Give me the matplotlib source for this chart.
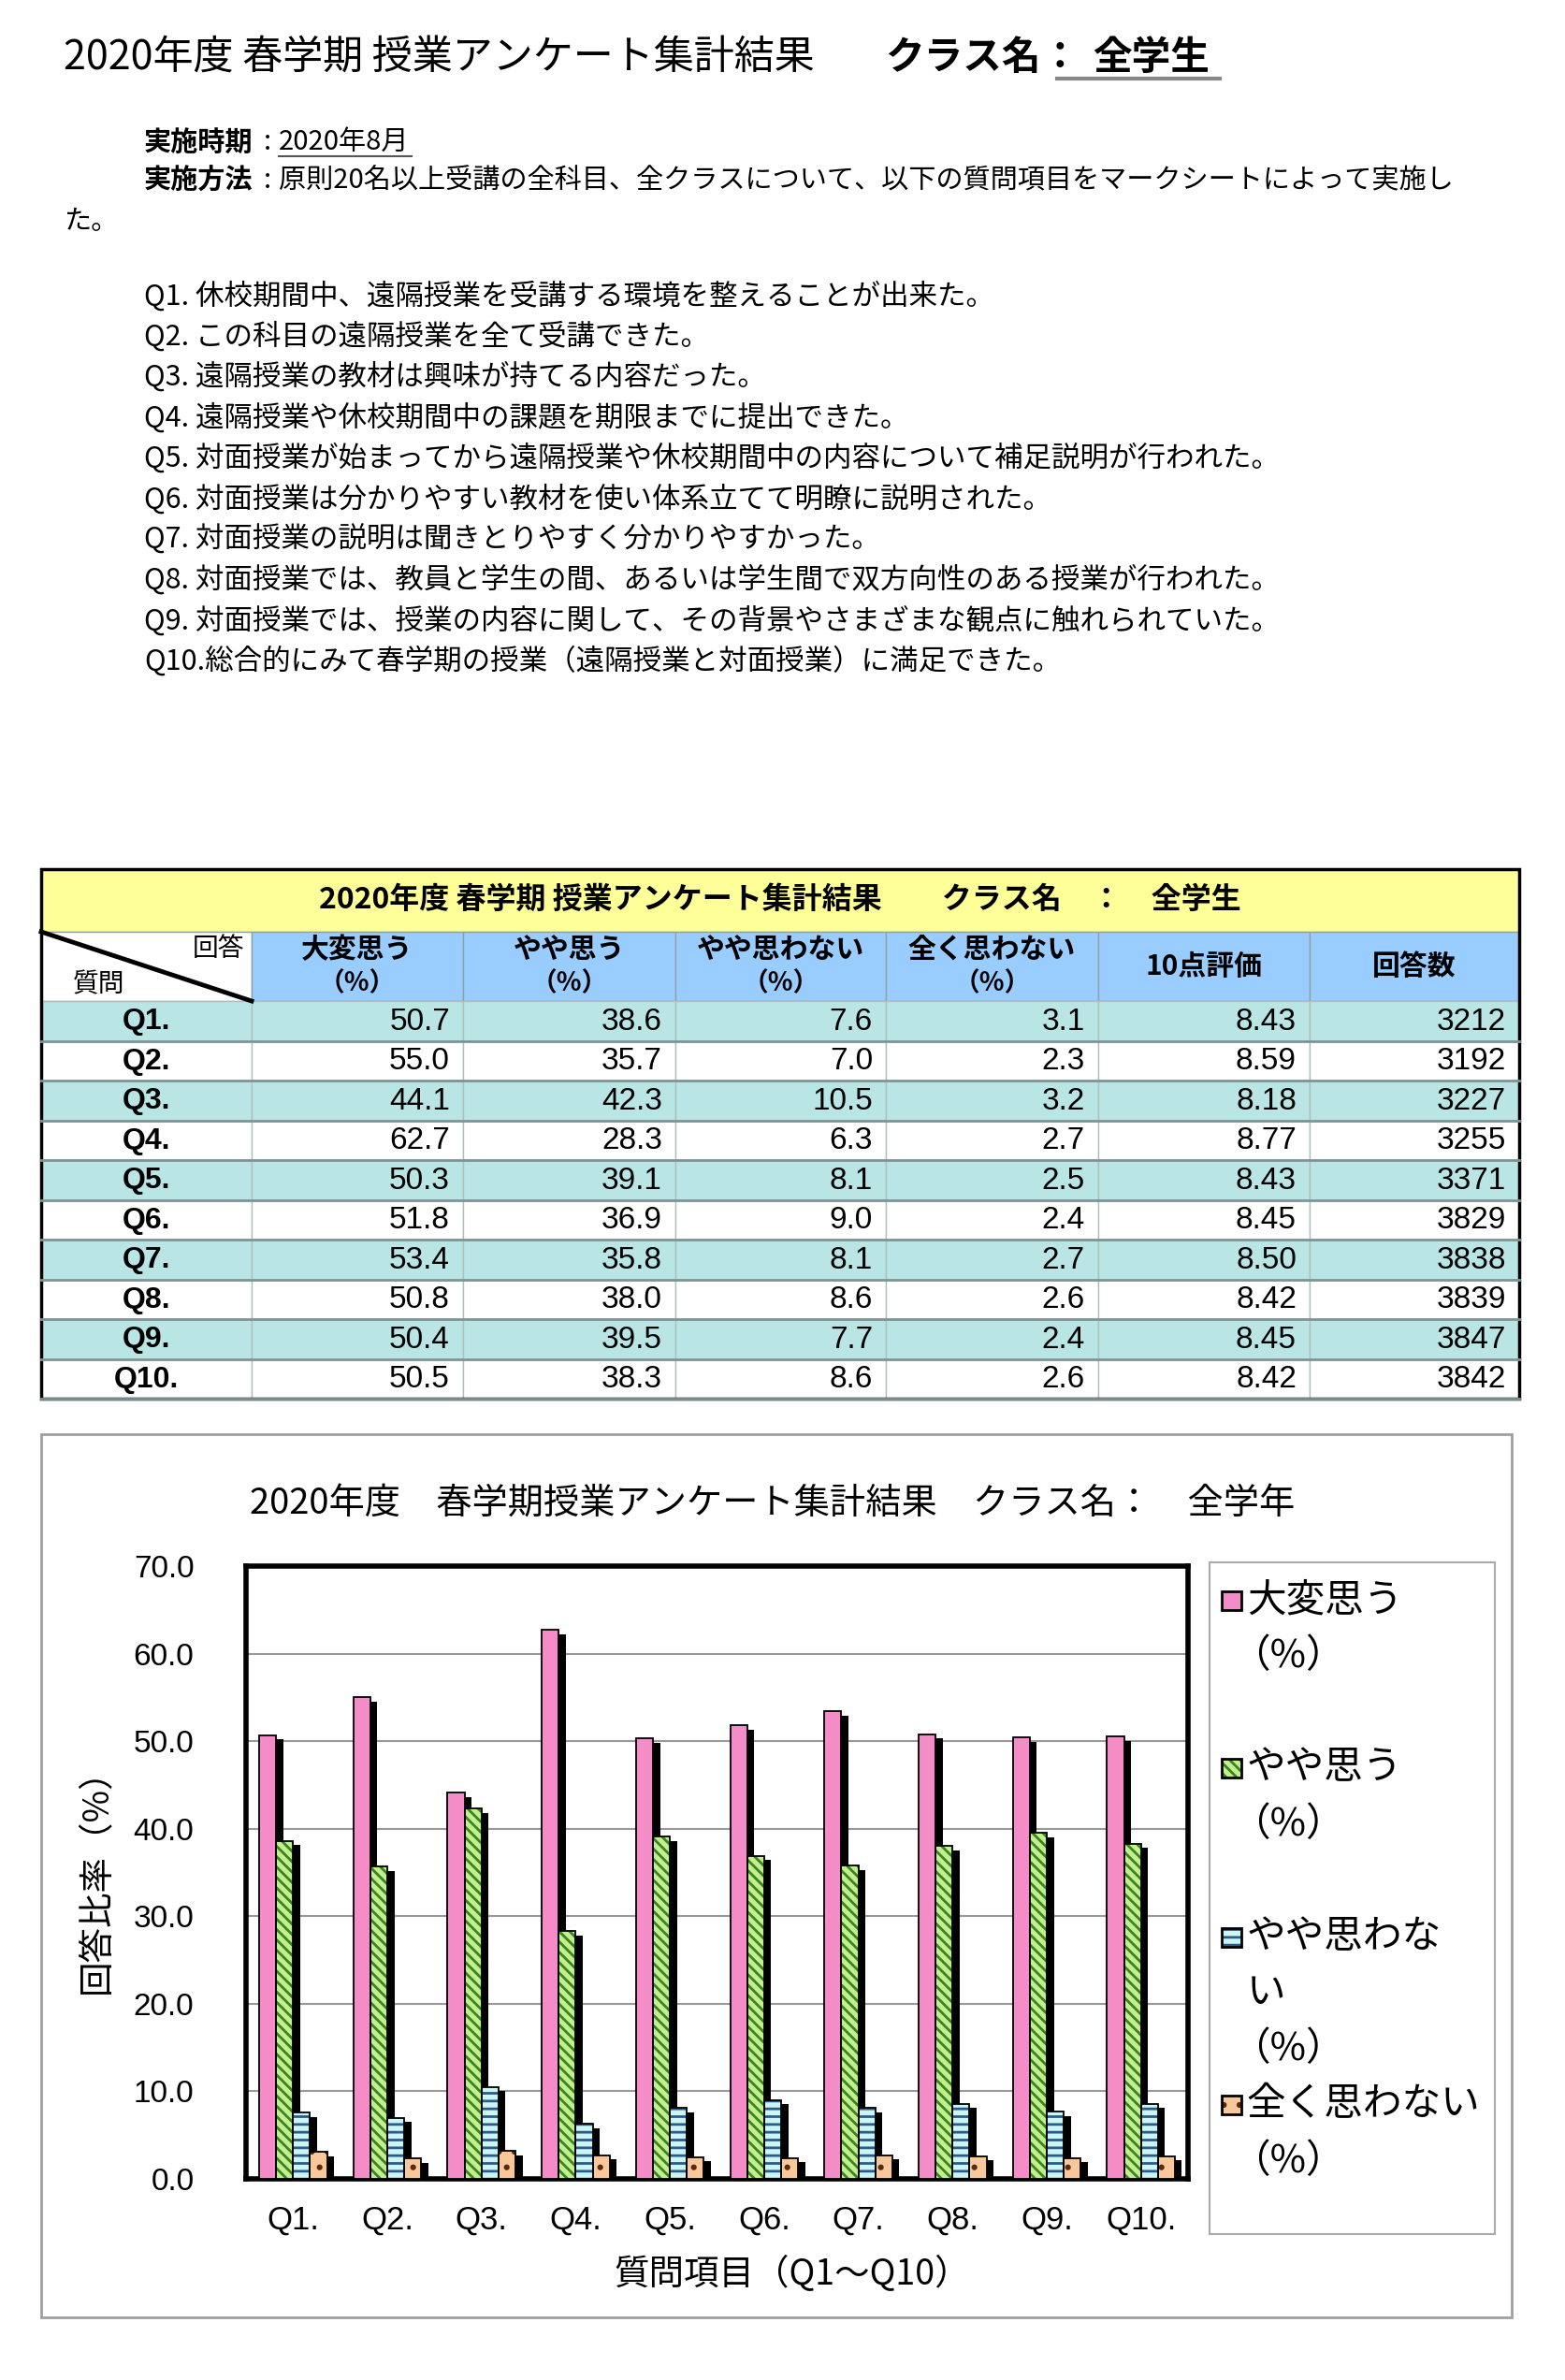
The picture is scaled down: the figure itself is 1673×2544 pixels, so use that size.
import numpy as np
import matplotlib.pyplot as plt
from matplotlib.patches import Rectangle

JP = ['Noto Sans CJK JP', 'DejaVu Sans']
NUM = ['Liberation Sans', 'DejaVu Sans']
plt.rcParams['font.family'] = JP
plt.rcParams['hatch.linewidth'] = 2.0

# --- data ---
questions = ["Q1.", "Q2.", "Q3.", "Q4.", "Q5.", "Q6.", "Q7.", "Q8.", "Q9.", "Q10."]
q_texts = [
    "Q1. 休校期間中、遠隔授業を受講する環境を整えることが出来た。",
    "Q2. この科目の遠隔授業を全て受講できた。",
    "Q3. 遠隔授業の教材は興味が持てる内容だった。",
    "Q4. 遠隔授業や休校期間中の課題を期限までに提出できた。",
    "Q5. 対面授業が始まってから遠隔授業や休校期間中の内容について補足説明が行われた。",
    "Q6. 対面授業は分かりやすい教材を使い体系立てて明瞭に説明された。",
    "Q7. 対面授業の説明は聞きとりやすく分かりやすかった。",
    "Q8. 対面授業では、教員と学生の間、あるいは学生間で双方向性のある授業が行われた。",
    "Q9. 対面授業では、授業の内容に関して、その背景やさまざまな観点に触れられていた。",
    "Q10.総合的にみて春学期の授業（遠隔授業と対面授業）に満足できた。",
]
very = [50.7, 55.0, 44.1, 62.7, 50.3, 51.8, 53.4, 50.8, 50.4, 50.5]
some = [38.6, 35.7, 42.3, 28.3, 39.1, 36.9, 35.8, 38.0, 39.5, 38.3]
little = [7.6, 7.0, 10.5, 6.3, 8.1, 9.0, 8.1, 8.6, 7.7, 8.6]
never = [3.1, 2.3, 3.2, 2.7, 2.5, 2.4, 2.7, 2.6, 2.4, 2.6]
score = [8.43, 8.59, 8.18, 8.77, 8.43, 8.45, 8.50, 8.42, 8.45, 8.42]
n_resp = [3212, 3192, 3227, 3255, 3371, 3829, 3838, 3839, 3847, 3842]

table_heads = [("大変思う", "（%）"), ("やや思う", "（%）"), ("やや思わない", "（%）"),
               ("全く思わない", "（%）"), ("10点評価", None), ("回答数", None)]
legend_labels = [["大変思う", "（%）"], ["やや思う", "（%）"],
                 ["やや思わな", "い", "（%）"], ["全く思わない", "（%）"]]

fig = plt.figure(figsize=(16.74, 25.44), dpi=100)
page = fig.add_axes([0, 0, 1, 1])
page.set_xlim(0, 1674)
page.set_ylim(2544, 0)
page.axis('off')

# --- header text ---
page.text(68, 62, "2020年度 春学期 授業アンケート集計結果", fontsize=31, va='center')
page.text(946, 62, "クラス名：", fontsize=30, fontweight='bold', va='center')
page.text(1168, 62, "全学生", fontsize=30, fontweight='bold', va='center')
page.plot([1130, 1304], [84, 84], color='#888888', lw=3)

page.text(154, 152, "実施時期", fontsize=21, fontweight='bold', va='center')
page.text(282, 152, ":", fontsize=21, va='center')
page.text(298, 152, "2020年8月", fontsize=21, va='center')
page.plot([298, 440], [167, 167], color='#555555', lw=1.5)
page.text(154, 193, "実施方法", fontsize=21, fontweight='bold', va='center')
page.text(282, 193, ":", fontsize=21, va='center')
page.text(298, 193, "原則20名以上受講の全科目、全クラスについて、以下の質問項目をマークシートによって実施し",
          fontsize=21, va='center')
page.text(68, 237, "た。", fontsize=21, va='center')

for i, t in enumerate(q_texts):
    page.text(154, 316 + i * 43.4, t, fontsize=22, va='center')

# --- table ---
col_x = [44, 269, 495, 722, 947, 1174, 1400, 1624]
t_top, t_head, t_rows = 929, 996, 1070
row_h = 42.5
grid = '#8FA3A3'

page.add_patch(Rectangle((col_x[0], t_top), col_x[-1] - col_x[0], t_head - t_top,
                         facecolor='#FFFF99', edgecolor=grid, lw=1))
page.text(834, 962, "2020年度 春学期 授業アンケート集計結果　　クラス名　：　全学生",
          fontsize=23, fontweight='bold', ha='center', va='center')

page.add_patch(Rectangle((col_x[0], t_head), col_x[1] - col_x[0], t_rows - t_head,
                         facecolor='white', edgecolor=grid, lw=1))
page.plot([col_x[0], col_x[1]], [t_head, t_rows], color='black', lw=3.5)
page.text(col_x[1] - 8, 1014, "回答", fontsize=20, ha='right', va='center')
page.text(78, 1052, "質問", fontsize=20, ha='left', va='center')

for j, (h1, h2) in enumerate(table_heads):
    x0, x1 = col_x[j + 1], col_x[j + 2]
    page.add_patch(Rectangle((x0, t_head), x1 - x0, t_rows - t_head,
                             facecolor='#99CCFF', edgecolor=grid, lw=1))
    cx = (x0 + x1) / 2
    if h2 is None:
        page.text(cx, 1033, h1, fontsize=21.5, fontweight='bold', ha='center', va='center')
    else:
        page.text(cx, 1015, h1, fontsize=21.5, fontweight='bold', ha='center', va='center')
        page.text(cx, 1051, h2, fontsize=20, fontweight='bold', ha='center', va='center')

for i, q in enumerate(questions):
    y0 = t_rows + i * row_h
    face = '#B9E5E5' if i % 2 == 0 else 'white'
    cells = [f"{very[i]:.1f}", f"{some[i]:.1f}", f"{little[i]:.1f}", f"{never[i]:.1f}",
             f"{score[i]:.2f}", f"{n_resp[i]}"]
    for j in range(7):
        page.add_patch(Rectangle((col_x[j], y0), col_x[j + 1] - col_x[j], row_h,
                                 facecolor=face, edgecolor='#B0BEBE', lw=1))
    page.plot([col_x[0], col_x[-1]], [y0 + row_h, y0 + row_h], color='#7F9595', lw=2)
    yc = y0 + row_h / 2
    page.text((col_x[0] + col_x[1]) / 2, yc + 1, q, fontsize=23, fontweight='bold',
              family=NUM, ha='center', va='center')
    for j, s in enumerate(cells):
        page.text(col_x[j + 2] - 14, yc + 1, s, fontsize=24, family=NUM, ha='right', va='center')

page.add_patch(Rectangle((col_x[0], t_top), col_x[-1] - col_x[0], t_rows + 10 * row_h - t_top,
                         facecolor='none', edgecolor='black', lw=2.5))

# --- chart frame ---
page.add_patch(Rectangle((44, 1533), 1572, 944, facecolor='white', edgecolor='#A0A0A0', lw=2))
page.text(826, 1607, "2020年度　春学期授業アンケート集計結果　クラス名：　全学年",
          fontsize=27.5, ha='center', va='center')

ax = fig.add_axes([263 / 1674, (2544 - 2329) / 2544, 1007 / 1674, 655 / 2544])
x = np.arange(len(questions))
w = 0.18
styles = [
    dict(face='#F48CC8', hatch=None, hcol='#F48CC8'),
    dict(face='#C4F08C', hatch='\\\\\\', hcol='#3A8228'),
    dict(face='#CDF5F5', hatch='--', hcol='#2A5C8A'),
    dict(face='#F8C89A', hatch='.', hcol='#5A2A10'),
]
series = [very, some, little, never]
for k, (vals, st) in enumerate(zip(series, styles)):
    pos = x + (k - 1.5) * w
    vals = np.array(vals)
    ax.bar(pos + 0.075, vals - 0.5, width=w, color='black', zorder=2)
    ax.bar(pos, vals, width=w, color=st['face'], hatch=st['hatch'],
           edgecolor=st['hcol'], linewidth=0, zorder=3)
    ax.bar(pos, vals, width=w, facecolor='none', edgecolor='black', linewidth=1.3, zorder=4)

ax.set_xlim(-0.5, 9.5)
ax.set_ylim(0, 70)
ax.set_yticks(np.arange(0, 71, 10))
ax.set_yticklabels([f"{v:.1f}" for v in np.arange(0, 71, 10)], fontsize=24, family=NUM)
ax.set_xticks(x)
ax.set_xticklabels(questions, fontsize=25, family=NUM)
ax.tick_params(length=0)
ax.tick_params(axis='y', pad=40)
ax.tick_params(axis='x', pad=20)
ax.grid(axis='y', color='#999999', lw=1.5, zorder=0)
ax.set_axisbelow(True)
for sp in ax.spines.values():
    sp.set_linewidth(4)
    sp.set_color('black')
ax.set_ylabel("回答比率（%）", fontsize=27)
ax.yaxis.set_label_coords((122 - 263) / 1007, 0.5)
ax.set_xlabel("質問項目（Q1～Q10）", fontsize=27)
ax.xaxis.set_label_coords((847 - 263) / 1007, -(2412 - 2329) / 655)

# --- legend ---
page.add_patch(Rectangle((1293, 1670), 305, 718, facecolor='white', edgecolor='#AAAAAA', lw=1.5))
leg_y = [1711, 1890, 2071, 2250]
for lines, st, ly in zip(legend_labels, styles, leg_y):
    page.add_patch(Rectangle((1306, ly - 10), 21, 20, facecolor=st['face'], hatch=st['hatch'],
                             edgecolor=st['hcol'], lw=0))
    page.add_patch(Rectangle((1306, ly - 10), 21, 20, facecolor='none', edgecolor='black', lw=2))
    for n, s in enumerate(lines):
        lx = 1316 if s.startswith("（") else 1333
        page.text(lx, ly + n * 60, s, fontsize=30, va='center')

fig.savefig("out.png", dpi=100)
